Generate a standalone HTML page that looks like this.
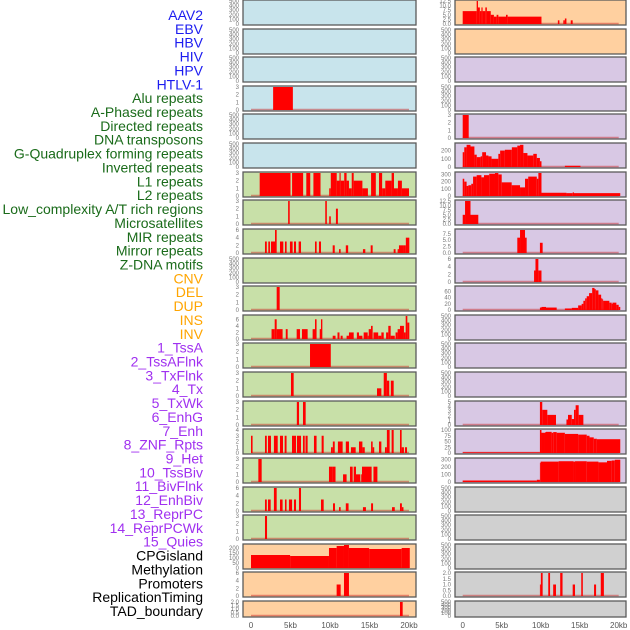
<!DOCTYPE html>
<html><head><meta charset="utf-8"><style>
html,body{margin:0;padding:0;background:#fff;width:630px;height:630px;overflow:hidden}
svg{display:block;font-family:"Liberation Sans",sans-serif}
</style></head><body>
<svg id="chart" width="630" height="630"></svg>
<script>
const trackNames=["AAV2","EBV","HBV","HIV","HPV","HTLV-1","Alu repeats","A-Phased repeats","Directed repeats","DNA transposons","G-Quadruplex forming repeats","Inverted repeats","L1 repeats","L2 repeats","Low_complexity A/T rich regions","Microsatellites","MIR repeats","Mirror repeats","Z-DNA motifs","CNV","DEL","DUP","INS","INV","1_TssA","2_TssAFlnk","3_TxFlnk","4_Tx","5_TxWk","6_EnhG","7_Enh","8_ZNF_Rpts","9_Het","10_TssBiv","11_BivFlnk","12_EnhBiv","13_ReprPC","14_ReprPCWk","15_Quies","CPGisland","Methylation","Promoters","ReplicationTiming","TAD_boundary"];
const labelColors=["#1c1cf0","#1c1cf0","#1c1cf0","#1c1cf0","#1c1cf0","#1c1cf0","#1a6b1a","#1a6b1a","#1a6b1a","#1a6b1a","#1a6b1a","#1a6b1a","#1a6b1a","#1a6b1a","#1a6b1a","#1a6b1a","#1a6b1a","#1a6b1a","#1a6b1a","#ffa500","#ffa500","#ffa500","#ffa500","#ffa500","#a030f0","#a030f0","#a030f0","#a030f0","#a030f0","#a030f0","#a030f0","#a030f0","#a030f0","#a030f0","#a030f0","#a030f0","#a030f0","#a030f0","#a030f0","#000","#000","#000","#000","#000"];
const xTickValues=[0,5,10,15,20];
const xTickLabels=["0","5kb","10kb","15kb","20kb"];
const E=[0,100,200,300,400,500];
const panelBg=["#c8e4ec","#c8e4ec","#c8e4ec","#c8e4ec","#c8e4ec","#c8e4ec","#c8e0a8","#c8e0a8","#c8e0a8","#c8e0a8","#c8e0a8","#c8e0a8","#c8e0a8","#c8e0a8","#c8e0a8","#c8e0a8","#c8e0a8","#c8e0a8","#c8e0a8","#ffd0a0","#ffd0a0","#ffd0a0",
"#ffd0a0","#ffd0a0","#d8c8e4","#d8c8e4","#d8c8e4","#d8c8e4","#d8c8e4","#d8c8e4","#d8c8e4","#d8c8e4","#d8c8e4","#d8c8e4","#d8c8e4","#d8c8e4","#d8c8e4","#d8c8e4","#d8c8e4","#d0d0d0","#d0d0d0","#d0d0d0","#d0d0d0","#d0d0d0"];
const yMax=[500,500,500,3,500,500,3,3,6,500,3,7,3,3,3,4,3,6,3,230,6,2,
12.5,500,500,500,3,280,320,12.5,9,6,75,500,500,500,5,100,310,500,500,500,2,500];
const yTicks=[E,E,E,[0,1,2,3],E,E,[0,1,2,3],[0,1,2,3],[0,2,4,6],E,[0,1,2,3],[0,2,4,6],[0,1,2,3],[0,1,2,3],[0,1,2,3],[0,1,2,3,4],[0,1,2,3],[0,2,4,6],[0,1,2,3],[0,50,100,150,200],[0,2,4,6],[0,0.5,1,1.5,2],
[0,2.5,5,7.5,10,12.5],E,E,E,[0,1,2,3],[0,100,200],[0,100,200,300],[0,2.5,5,7.5,10,12.5],[0,2.5,5,7.5],[0,2,4,6],[0,20,40,60],E,E,E,[0,1,2,3,4,5],[0,25,50,75,100],[0,100,200,300],E,E,E,[0,0.5,1,1.5,2],E];
const tickDecimals=[0,0,0,0,0,0,0,0,0,0,0,0,0,0,0,0,0,0,0,0,0,1,1,0,0,0,0,0,0,1,1,0,0,0,0,0,0,0,0,0,0,0,1,0];
const segments=[[],[],[],[[2.8,5.3,3]],[],[],
[[1.1,5.0,3],[5.2,6.6,3],[7.0,7.5,3],[7.9,8.8,3],[9.9,10.1,1],[10.1,10.85,3],[10.85,11.2,2],[11.2,11.35,3],[11.35,11.8,2],[11.8,12.1,3],[12.1,12.4,2],[12.4,12.75,1],[12.75,13.0,3],[13.0,14.1,2],[14.1,14.8,1],[15.2,15.8,3],[16.2,16.6,3],[16.6,17.0,1],[17.0,17.8,2],[17.8,18.1,3],[18.1,18.6,1],[18.6,19.1,2],[19.1,20.0,1]],
[[4.7,4.9,3],[9.4,9.6,3],[9.9,10.1,1],[10.75,11.0,2]],
[[1.77,2.0,3],[2.19,2.4,3],[2.53,3.04,3],[3.04,3.25,6],[3.67,4.09,3],[4.3,4.51,3],[4.93,5.27,3],[5.44,5.7,3],[6.03,6.33,3],[8.1,8.31,3],[8.6,8.86,3],[10.34,10.6,2],[11.14,11.35,1],[12.0,12.3,2],[14.17,14.47,1],[15.15,15.4,2],[18.06,18.3,1],[18.56,18.73,1],[18.73,19.36,2],[19.36,19.6,2],[19.6,20.04,4]],
[],
[[3.25,3.63,3]],
[[2.6,3.0,3],[3.0,3.25,6],[3.25,4.0,3],[4.4,4.64,3],[5.78,6.2,3],[6.45,7.17,3],[7.8,8.1,3],[8.1,8.3,6],[8.7,8.86,3],[8.86,9.03,6],[10.34,10.7,1],[10.95,11.2,2],[11.35,11.6,1],[12.1,12.4,1],[12.4,13.0,2],[13.4,13.67,2],[13.67,14.1,1],[14.26,14.77,2],[14.77,14.9,1],[14.9,15.19,3],[15.19,15.4,4],[15.5,16.1,2],[16.1,16.5,1],[16.5,16.8,2],[17.1,17.38,2],[17.38,17.68,4],[17.68,18.2,1],[18.3,18.56,2],[18.56,18.86,3],[18.86,19.36,4],[19.36,19.58,2],[19.58,19.79,7],[19.79,20.04,5]],
[[7.47,10.1,3]],
[[5.06,5.4,3],[15.95,16.5,1],[16.8,17.2,3],[17.2,17.5,2],[17.7,18.06,2]],
[[5.8,6.08,3],[6.58,6.92,3]],
[[0.0,0.2,3],[1.77,2.0,3],[2.15,2.53,3],[2.9,3.38,3],[3.67,4.05,3],[4.26,4.5,3],[5.19,5.7,3],[5.82,6.33,3],[6.58,6.8,3],[6.9,7.17,3],[7.97,8.3,3],[8.94,9.2,3],[10.13,10.36,1],[10.36,10.6,2],[11.0,11.6,2],[12.0,12.4,2],[12.65,13.25,1],[13.67,14.1,2],[14.1,14.4,1],[15.2,15.4,2],[15.4,15.6,1],[16.2,16.5,2],[16.96,17.2,1],[17.2,17.55,4],[17.8,18.06,4],[18.86,19.07,4],[19.07,19.36,1],[19.49,19.75,1]],
[[0.93,1.35,3],[9.87,10.3,2],[10.3,10.7,2],[11.65,12.1,1],[12.53,12.87,2],[13.0,13.29,2],[13.29,13.84,1],[13.95,14.05,1],[14.05,15.27,2],[15.5,16.0,2]],
[[1.77,2.0,3],[2.15,2.49,3],[2.9,3.25,6],[3.67,4.0,3],[4.3,4.5,3],[4.8,5.2,3],[5.44,5.7,3],[6.07,6.33,6],[8.86,9.2,3],[10.38,10.63,2],[11.14,11.35,1],[12.0,12.35,2],[14.17,14.55,1],[15.2,15.45,2],[17.85,18.2,1],[18.86,19.1,2],[19.1,19.3,1]],
[[1.77,2.03,3]],
[[0.0,4.95,130],[4.95,9.87,120],[9.87,10.84,200],[10.84,11.77,220],[11.77,12.4,230],[12.4,14.95,200],[14.95,19.07,190],[19.07,20.1,200]],
[[10.84,11.35,3],[11.77,12.4,6]],
[[18.86,19.2,2]],
[[0.0,1.79,7],[1.79,1.96,12.5],[1.96,2.2,9],[2.2,2.4,7],[2.4,2.55,9],[2.55,2.9,7],[2.9,3.1,9],[3.1,3.6,7],[3.6,4.0,5],[4.0,4.35,4],[4.35,4.57,5],[4.57,5.55,4],[5.55,5.76,5],[5.76,10.1,4],[12.2,12.4,2],[12.9,13.1,2],[13.1,13.3,3],[13.85,14.1,2]],
[],[],[],
[[0.0,0.77,3]],
[[0.0,0.2,180],[0.2,0.5,240],[0.5,1.0,270],[1.0,1.5,250],[1.5,1.8,150],[1.8,2.3,120],[2.3,2.5,130],[2.5,2.99,180],[2.99,3.3,140],[3.3,3.7,130],[3.7,4.57,100],[4.57,4.8,160],[4.8,5.4,200],[5.4,6.3,210],[6.3,7.0,240],[7.0,7.35,260],[7.35,7.78,270],[7.78,8.3,170],[8.3,9.05,140],[9.05,9.5,160],[9.5,9.9,110],[9.9,10.1,70],[13.1,15.1,15]],
[[0.0,0.2,240],[0.2,0.5,200],[0.5,0.73,140],[0.73,1.1,150],[1.1,1.33,170],[1.33,1.79,270],[1.79,2.4,290],[2.4,2.73,260],[2.73,3.4,290],[3.4,4.14,310],[4.14,4.57,320],[4.57,5.0,300],[5.0,6.28,190],[6.28,7.35,150],[7.35,7.99,120],[7.99,8.4,240],[8.4,9.5,270],[9.5,9.7,240],[9.7,10.1,320],[10.1,13.3,45],[13.3,14.1,40],[14.1,14.27,50],[14.27,20.2,40]],
[[0.0,0.3,5],[0.3,1.0,12.5],[1.0,2.0,5]],
[[7.0,7.35,6],[7.35,7.99,9],[7.99,8.2,6],[9.9,10.25,4]],
[[9.15,9.33,3],[9.33,9.7,6],[9.7,10.1,3]],
[[9.9,10.1,8],[10.1,10.68,10],[10.68,12.05,8],[13.1,13.98,5],[13.98,14.8,7],[14.8,15.25,15],[15.25,15.47,20],[15.47,15.7,30],[15.7,15.9,38],[15.9,16.2,45],[16.2,16.6,55],[16.6,16.9,72],[16.9,17.06,68],[17.06,17.4,64],[17.4,17.75,50],[17.75,17.9,38],[17.9,18.0,35],[18.0,18.8,30],[18.8,19.1,24],[19.1,19.2,20],[19.2,19.7,24],[19.7,20.0,17],[20.0,20.2,10]],
[],[],[],
[[9.9,10.2,5],[10.2,10.85,3.3],[10.85,11.96,2.2],[13.3,13.5,1.2],[13.5,13.98,2.2],[13.98,14.27,1.3],[14.27,14.48,3.3],[14.48,14.87,4.3],[14.87,15.47,2.2]],
[[0.0,9.9,3],[9.9,10.1,100],[10.1,10.55,88],[10.55,10.68,90],[10.68,11.4,92],[11.4,11.6,88],[11.6,12.05,91],[12.05,13.1,88],[13.1,14.8,83],[14.8,15.9,80],[15.9,16.26,75],[16.26,16.8,68],[16.8,17.2,62],[17.2,20.2,60]],
[[0.0,9.5,20],[9.5,9.9,30],[9.9,10.0,260],[10.0,12.3,275],[12.3,14.2,280],[14.2,14.4,275],[14.4,15.9,280],[15.9,17.4,275],[17.4,18.5,265],[18.5,19.1,285],[19.1,19.5,290],[19.5,20.2,300]],
[],[],[],
[[9.9,10.02,1],[10.02,10.25,2],[10.97,11.2,2],[11.6,11.96,1],[12.5,12.8,2],[14.1,14.4,1],[15.2,15.4,2],[16.84,17.1,1],[17.7,18.1,2]],
[]];

const NS="http://www.w3.org/2000/svg";
const svg=document.getElementById('chart');
function mk(tag,attrs,parent){const e=document.createElementNS(NS,tag);for(const k in attrs)e.setAttribute(k,attrs[k]);(parent||svg).appendChild(e);return e;}
const cols=[{x0:243,x1:416,zero:251,ppk:7.9,tickRight:239},{x0:455,x1:626,zero:462.7,ppk:7.8,tickRight:451}];
function xScale(c,kb){return cols[c].zero+kb*cols[c].ppk;}

// labels
trackNames.forEach((n,i)=>{
  const t=mk('text',{x:203,y:15+i*13.86+5,'text-anchor':'end','font-size':'14',fill:labelColors[i]});
  t.textContent=n;
  
  
});

for(let i=0;i<44;i++){
  const c=i<22?0:1, r=i%22;
  const top=Math.round(r*28.62);
  const h=(r===21)?16:25;
  const bottom=top+h-1;
  const span=h-2;
  const col=cols[c];
  const g=mk('g',{});
  
  
  const bg=mk('rect',{x:col.x0,y:top,width:col.x1-col.x0,height:h,fill:panelBg[i],stroke:'#5a5a5a','stroke-width':1.3},g);
  
  
  const ys=v=>bottom-v/yMax[i]*span;
  const segs=segments[i];
  if(segs.length){
    const bl=mk('line',{x1:xScale(c,0),x2:xScale(c,20),y1:bottom-0.5,y2:bottom-0.5,stroke:'rgba(200,30,30,0.45)','stroke-width':1.6},g);
    
    
  }
  segs.forEach(s=>{
    const x=xScale(c,s[0]), w=Math.max(0.8,xScale(c,s[1])-x);
    const y=ys(Math.min(s[2],yMax[i]));
    const b=mk('rect',{x:x,y:y,width:w,height:bottom-y,fill:'#ff0000'},g);
    
    
  });
  yTicks[i].forEach(v=>{
    const t=mk('text',{x:col.tickRight,y:ys(v)+2,'text-anchor':'end','font-size':'6',fill:'#777'},g);
    t.textContent=v.toFixed(tickDecimals[i]);
    
    
  });
}
// x axes
[0,1].forEach(c=>{
  xTickValues.forEach((v,k)=>{
    const t=mk('text',{x:xScale(c,v),y:628,'text-anchor':'middle','font-size':'8',fill:'#555'});
    t.textContent=xTickLabels[k];
    
    
  });
});
</script>
</body></html>
